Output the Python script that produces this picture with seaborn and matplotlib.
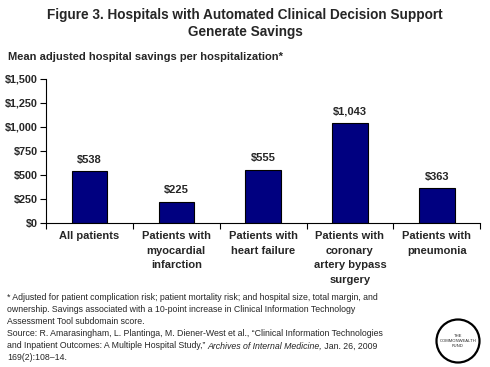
import matplotlib
matplotlib.use("Agg")
import matplotlib.pyplot as plt
from matplotlib.patches import Circle
import seaborn as sns
import pandas as pd

# data
categories = ["All patients", "Patients with\nmyocardial\ninfarction", "Patients with\nheart failure",
              "Patients with\ncoronary\nartery bypass\nsurgery", "Patients with\npneumonia"]
savings = [538, 225, 555, 1043, 363]
value_labels = ["$538", "$225", "$555", "$1,043", "$363"]
y_ticks = [0, 250, 500, 750, 1000, 1250, 1500]
y_tick_labels = ["$0", "$250", "$500", "$750", "$1,000", "$1,250", "$1,500"]

sns.set_style("white")
plt.rcParams["font.family"] = ["Liberation Sans", "DejaVu Sans"]

df = pd.DataFrame({"category": categories, "savings": savings})

fig = plt.figure(figsize=(4.9, 3.67), dpi=100)
ax = fig.add_axes([0.094, 0.392, 0.886, 0.393])
sns.barplot(data=df, x="category", y="savings", color="#000080", saturation=1,
            edgecolor="black", linewidth=0.8, width=0.41, ax=ax)

# value labels above bars
for i, (v, lab) in enumerate(zip(savings, value_labels)):
    ax.text(i, v + 70, lab, ha="center", va="bottom", fontsize=8, fontweight="bold")

ax.set_ylim(0, 1500)
ax.set_xlim(-0.5, len(categories) - 0.5)
ax.set_yticks(y_ticks)
ax.set_yticklabels(y_tick_labels, fontsize=7.8, fontweight="bold")
ax.set_xticks([i for i in range(len(categories))])
ax.set_xticklabels(categories, fontsize=8, fontweight="bold", linespacing=1.55, va="top")
ax.tick_params(axis="x", length=0, pad=6)
ax.tick_params(axis="y", direction="out", length=4, width=0.8, color="black", left=True, pad=2)
# ticks between categories
ax.set_xticks([i - 0.5 for i in range(len(categories) + 1)], minor=True)
ax.tick_params(axis="x", which="minor", direction="out", length=4, width=0.8, color="black", bottom=True)
for s in ["top", "right"]:
    ax.spines[s].set_visible(False)
for s in ["left", "bottom"]:
    ax.spines[s].set_color("black")
    ax.spines[s].set_linewidth(0.8)
ax.set_xlabel("")
ax.set_ylabel("")

fig.text(0.5, 0.978, "Figure 3. Hospitals with Automated Clinical Decision Support\nGenerate Savings",
         ha="center", va="top", fontsize=9.8, fontweight="bold", linespacing=1.25)
fig.text(0.016, 0.845, "Mean adjusted hospital savings per hospitalization*",
         ha="left", va="center", fontsize=8, fontweight="bold")

# footnote, one line at a time so spacing stays even
foot_lines = [
    "* Adjusted for patient complication risk; patient mortality risk; and hospital size, total margin, and",
    "ownership. Savings associated with a 10-point increase in Clinical Information Technology",
    "Assessment Tool subdomain score.",
    "Source: R. Amarasingham, L. Plantinga, M. Diener-West et al., \u201cClinical Information Technologies",
    None,
    "169(2):108\u201314.",
]
fs = 6.3
x0 = 0.014
renderer = fig.canvas.get_renderer()
for k, line in enumerate(foot_lines):
    y = 1 - (298 + 12 * k) / 367
    if line is not None:
        fig.text(x0, y, line, ha="left", va="center", fontsize=fs)
    else:
        # mixed roman / italic line
        parts = [("and Inpatient Outcomes: A Multiple Hospital Study,\u201d ", "normal"),
                 ("Archives of Internal Medicine,", "italic"),
                 (" Jan. 26, 2009", "normal")]
        xx = x0
        for txt, st in parts:
            t = fig.text(xx, y, txt, ha="left", va="center", fontsize=fs, style=st)
            bb = t.get_window_extent(renderer=renderer)
            xx += bb.width / fig.bbox.width

# logo circle
circ = Circle((458, 367 - 341), 21.5, transform=None, fill=False, edgecolor="black", linewidth=1.6)
fig.patches.append(circ)
fig.text(458 / 490, 1 - 341 / 367, "THE\nCOMMONWEALTH\nFUND", ha="center", va="center",
         fontsize=3, linespacing=1.3)

fig.savefig("out.png", dpi=100)
